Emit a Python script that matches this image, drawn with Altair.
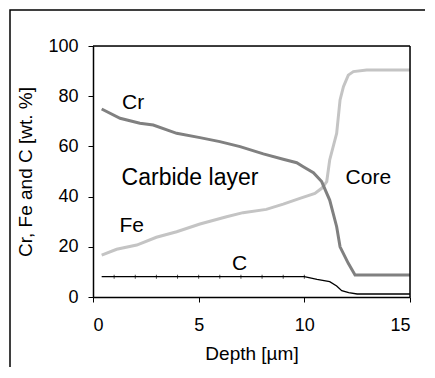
import altair as alt
import pandas as pd

# Cr profile
cr_depth = [0.41, 1.28, 2.22, 2.85, 3.96, 5.06, 6.0, 6.96, 8.06, 9.0, 9.64, 9.95, 10.43, 10.82, 11.2, 11.53, 11.69, 12.08, 12.4, 13.0, 14.0, 15.0]
cr_val = [74.9, 71.2, 69.2, 68.5, 65.2, 63.5, 61.9, 59.9, 57.0, 54.9, 53.5, 51.9, 49.5, 46.0, 38.6, 28.0, 20.0, 13.4, 8.8, 8.8, 8.8, 8.8]

# Fe profile
fe_depth = [0.41, 1.12, 2.07, 3.0, 3.96, 5.06, 6.32, 7.1, 8.2, 9.0, 9.79, 10.5, 10.82, 11.06, 11.2, 11.53, 11.69, 11.85, 12.08, 12.32, 12.95, 14.0, 15.0]
fe_val = [16.7, 19.0, 20.7, 23.8, 26.0, 29.1, 32.0, 33.6, 34.9, 37.0, 39.3, 41.3, 43.3, 46.0, 54.6, 65.2, 78.5, 83.8, 88.4, 89.8, 90.4, 90.4, 90.4]

# C profile
c_depth = [0.41, 1, 2, 3, 4, 5, 6, 7, 8, 9, 10, 10.6, 11.2, 11.53, 11.77, 12.1, 12.5, 13.5, 15.0]
c_val = [8.1, 8.1, 8.1, 8.1, 8.1, 8.1, 8.1, 8.1, 8.1, 8.1, 8.1, 7.0, 6.1, 4.4, 2.5, 1.7, 1.2, 1.2, 1.2]

# annotations
ann_text = ["Cr", "Fe", "C", "Core"]
ann_x = [1.9, 1.83, 6.93, 13.03]
ann_y = [77.3, 28.3, 13.1, 47.3]
region_text = ["Carbide layer"]
region_x = [4.59]
region_y = [47.4]

FONT = "Liberation Sans"
W, H = 317, 251

cr_df = pd.DataFrame({"depth": cr_depth, "val": cr_val})
fe_df = pd.DataFrame({"depth": fe_depth, "val": fe_val})
c_df = pd.DataFrame({"depth": c_depth, "val": c_val})
ann_df = pd.DataFrame({"text": ann_text, "x": ann_x, "y": ann_y})
reg_df = pd.DataFrame({"text": region_text, "x": region_x, "y": region_y})

xs = alt.Scale(domain=[0, 15], nice=False)
ys = alt.Scale(domain=[0, 100], nice=False)

xax = alt.Axis(values=[0, 5, 10, 15], title="Depth [\u00b5m]", grid=False,
               labelFontSize=18, titleFontSize=19, labelFont=FONT, titleFont=FONT,
               tickSize=5, labelPadding=14, titlePadding=10, domainColor="black",
               tickColor="black", labelColor="black", titleColor="black",
               titleFontWeight="normal", domainWidth=1.5, tickWidth=1)
yax = alt.Axis(values=[0, 20, 40, 60, 80, 100], title="Cr, Fe and C [wt. %]", grid=False,
               labelFontSize=18, titleFontSize=19, labelFont=FONT, titleFont=FONT,
               tickSize=5, labelPadding=10, titlePadding=12, domainColor="black",
               tickColor="black", labelColor="black", titleColor="black",
               titleFontWeight="normal", domainWidth=1.5, tickWidth=1)

base_x = alt.X("depth:Q", scale=xs, axis=xax)
base_y = alt.Y("val:Q", scale=ys, axis=yax)

cr_line = alt.Chart(cr_df).mark_line(color="#808080", strokeWidth=3).encode(x=base_x, y=base_y)
fe_line = alt.Chart(fe_df).mark_line(color="#c4c4c4", strokeWidth=3).encode(x=base_x, y=base_y)
c_line = alt.Chart(c_df).mark_line(color="black", strokeWidth=1.3).encode(x=base_x, y=base_y)
c_ticks = alt.Chart(c_df).transform_filter(
    "datum.depth >= 1 && datum.depth <= 10"
).mark_tick(color="black", size=4, thickness=1, orient="vertical").encode(x=base_x, y=base_y)

ann = alt.Chart(ann_df).mark_text(fontSize=21, font=FONT, color="black").encode(
    x=alt.X("x:Q", scale=xs), y=alt.Y("y:Q", scale=ys), text="text:N")
reg = alt.Chart(reg_df).mark_text(fontSize=23, font=FONT, color="black").encode(
    x=alt.X("x:Q", scale=xs), y=alt.Y("y:Q", scale=ys), text="text:N")

one = alt.Data(values=[{"k": 1}])
frame = alt.Chart(one).mark_rect(
    fill=None, stroke="black", strokeWidth=1.5, clip=False
).encode(x=alt.value(-83), x2=alt.value(337), y=alt.value(-36), y2=alt.value(340))

top_edge = alt.Chart(one).mark_rule(color="black", strokeWidth=1.5).encode(
    x=alt.datum(0, scale=xs), x2=alt.datum(15), y=alt.datum(100, scale=ys))
right_edge = alt.Chart(one).mark_rule(color="black", strokeWidth=1.5).encode(
    x=alt.datum(15, scale=xs), y=alt.datum(0, scale=ys), y2=alt.datum(100))

chart = alt.layer(frame, fe_line, cr_line, c_line, c_ticks, ann, reg, top_edge, right_edge).properties(
    width=W, height=H,
    background="white",
    autosize=alt.AutoSizeParams(type="none"),
    padding={"left": 85, "top": 38, "right": 15, "bottom": 70},
)

chart.save("out.html", embed_options={"renderer": "svg", "actions": False})
